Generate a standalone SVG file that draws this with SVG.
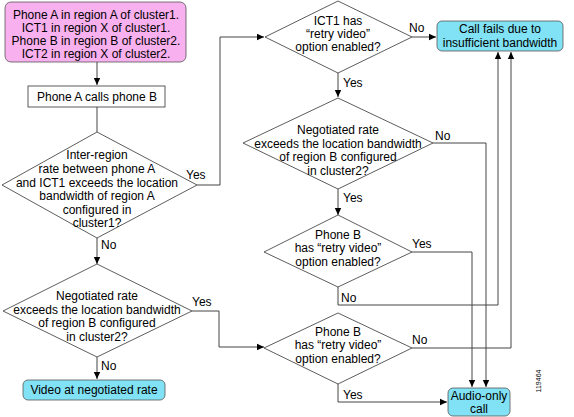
<svg xmlns="http://www.w3.org/2000/svg" width="574" height="417" viewBox="0 0 574 417">
<defs>
<marker id="ah" markerWidth="8" markerHeight="8" refX="7" refY="4" orient="auto" markerUnits="userSpaceOnUse">
<path d="M0,0.8 L7,4 L0,7.2 Z" fill="#000"/>
</marker>
<style>
text{font-family:"Liberation Sans",Arial,sans-serif;font-size:12px;fill:#000;text-anchor:middle}
.lbl{text-anchor:start}
.dia{fill:#fff;stroke:#333;stroke-width:0.8}
.box{fill:#fff;stroke:#333;stroke-width:0.8}
.pink{fill:#f8b0ee;stroke:#555;stroke-width:0.8}
.cyan{fill:#80e2f4;stroke:#555;stroke-width:0.8}
.c{fill:none;stroke:#444;stroke-width:1}
.a{fill:none;stroke:#444;stroke-width:1;marker-end:url(#ah)}
</style>
</defs>
<rect width="574" height="417" fill="#fff"/>
<g id="connectors">
<path class="a" d="M97,62 V85"/>
<path class="c" d="M97,107 V132"/>
<path class="a" d="M97,238 V264"/>
<path class="a" d="M97,357 V379"/>
<path class="a" d="M197,185 H220 V37 H264"/>
<path class="a" d="M192,311 H219 V347 H264"/>
<path class="a" d="M412,37 H436"/>
<path class="a" d="M338,73 V97"/>
<path class="a" d="M338,189 V215"/>
<path class="a" d="M433,143 H486 V387"/>
<path class="a" d="M412,252 H472 V387"/>
<path class="a" d="M338,287 V305 H498 V52"/>
<path class="a" d="M412,348 H511 V52"/>
<path class="a" d="M338,384 V402 H447"/>
</g>
<g id="n_start">
<rect class="pink" x="5" y="2" width="181" height="60" rx="6"/>
<text x="96" y="19">Phone A in region A of cluster1.</text>
<text x="96" y="32">ICT1 in region X of cluster1.</text>
<text x="96" y="45">Phone B in region B of cluster2.</text>
<text x="96" y="58">ICT2 in region X of cluster2.</text>
</g>
<g id="n_calls">
<rect class="box" x="28" y="86" width="137" height="21"/>
<text x="97" y="101">Phone A calls phone B</text>
</g>
<g id="n_d1">
<path class="dia" d="M97,132 L197,185 L97,238 L2,185 Z"/>
<text x="97" y="159">Inter-region</text>
<text x="97" y="173">rate between phone A</text>
<text x="97" y="187">and ICT1 exceeds the location</text>
<text x="97" y="200">bandwidth of region A</text>
<text x="97" y="214">configured in</text>
<text x="97" y="227">cluster1?</text>
<text class="lbl" x="186" y="179">Yes</text>
<text class="lbl" x="101" y="249">No</text>
</g>
<g id="n_d3">
<path class="dia" d="M97,264 L192,311 L97,357 L3,311 Z"/>
<text x="97" y="300">Negotiated rate</text>
<text x="97" y="314">exceeds the location bandwidth</text>
<text x="97" y="327">of region B configured</text>
<text x="97" y="341">in cluster2?</text>
<text class="lbl" x="192" y="306">Yes</text>
<text class="lbl" x="101" y="370">No</text>
</g>
<g id="n_video">
<rect class="cyan" x="23" y="380" width="142" height="20" rx="5"/>
<text x="94" y="394">Video at negotiated rate</text>
</g>
<g id="n_d2">
<path class="dia" d="M338,1 L412,37 L338,73 L265,37 Z"/>
<text x="338" y="25">ICT1 has</text>
<text x="338" y="38">“retry video”</text>
<text x="338" y="51">option enabled?</text>
<text class="lbl" x="409" y="32">No</text>
<text class="lbl" x="343" y="87">Yes</text>
</g>
<g id="n_fail">
<rect class="cyan" x="437" y="21" width="126" height="30" rx="5"/>
<text x="500" y="33">Call fails due to</text>
<text x="500" y="47">insufficient  bandwidth</text>
</g>
<g id="n_d4">
<path class="dia" d="M338,98 L433,143 L338,189 L243,143 Z"/>
<text x="338" y="134">Negotiated rate</text>
<text x="338" y="148">exceeds the location bandwidth</text>
<text x="338" y="161">of region B configured</text>
<text x="338" y="175">in cluster2?</text>
<text class="lbl" x="435" y="140">No</text>
<text class="lbl" x="343" y="202">Yes</text>
</g>
<g id="n_d5">
<path class="dia" d="M338,215 L412,252 L338,287 L264,252 Z"/>
<text x="338" y="239">Phone B</text>
<text x="338" y="252">has “retry video”</text>
<text x="338" y="266">option enabled?</text>
<text class="lbl" x="412" y="248">Yes</text>
<text class="lbl" x="341" y="302">No</text>
</g>
<g id="n_d6">
<path class="dia" d="M338,313 L412,348 L338,384 L264,348 Z"/>
<text x="338" y="336">Phone B</text>
<text x="338" y="349">has “retry video”</text>
<text x="338" y="363">option enabled?</text>
<text class="lbl" x="412" y="344">No</text>
<text class="lbl" x="343" y="399">Yes</text>
</g>
<g id="n_audio">
<rect class="cyan" x="448" y="388" width="62" height="28" rx="5"/>
<text x="479" y="400">Audio-only</text>
<text x="479" y="413">call</text>
</g>
<text x="0" y="0" style="font-size:7px" transform="translate(541,381) rotate(-90)">119464</text>
</svg>
